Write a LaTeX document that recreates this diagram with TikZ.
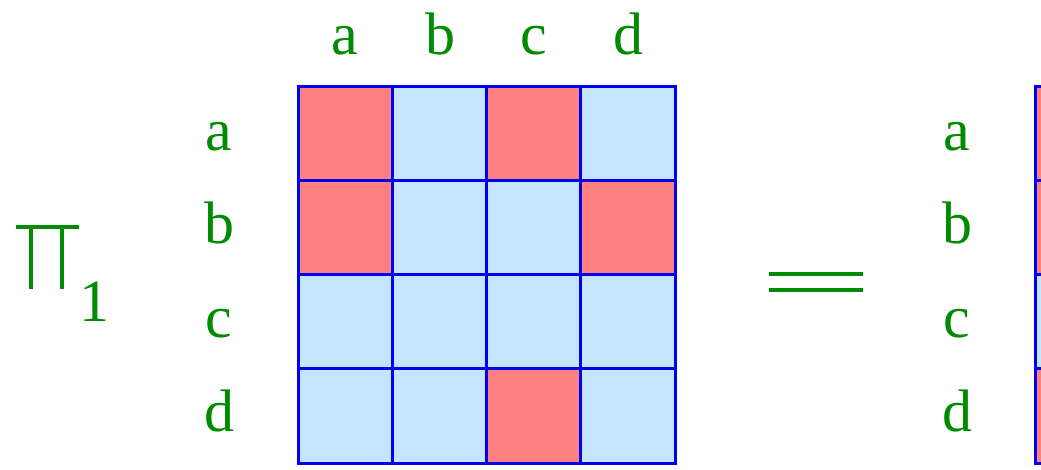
\documentclass[tikz,border=0pt]{standalone}
\usepackage{fontspec}
\setmainfont{Liberation Serif}
\definecolor{lblgreen}{RGB}{0,140,0}
\definecolor{cellred}{RGB}{255,128,128}
\definecolor{cellblue}{RGB}{196,228,255}
\definecolor{gridblue}{RGB}{0,0,240}
\tikzset{
  lbl/.style={text=lblgreen, font=\fontsize{60}{72}\selectfont, anchor=base, inner sep=0pt},
  redcell/.style={fill=cellred, draw=gridblue, line width=3pt},
  bluecell/.style={fill=cellblue, draw=gridblue, line width=3pt},
  sym/.style={draw=lblgreen, line width=3.4pt}
}
\begin{document}
\begin{tikzpicture}[x=1pt,y=-1pt]
\useasboundingbox (0,0) rectangle (1041,469);
% grid
\def\cs{94.25}
\foreach \r/\row in {0/{1,0,1,0},1/{1,0,0,1},2/{0,0,0,0},3/{0,0,1,0}}{
  \foreach \v [count=\c from 0] in \row {
    \ifnum\v=1
      \path[redcell] (298+\c*\cs,86+\r*\cs) rectangle ++(\cs,\cs);
    \else
      \path[bluecell] (298+\c*\cs,86+\r*\cs) rectangle ++(\cs,\cs);
    \fi
  }
}
% right partial grid
\foreach \r/\v in {0/1,1/1,2/0,3/1}{
  \ifnum\v=1
    \path[redcell] (1035,86+\r*\cs) rectangle ++(\cs,\cs);
  \else
    \path[bluecell] (1035,86+\r*\cs) rectangle ++(\cs,\cs);
  \fi
}
% top labels
\node[lbl] (ta) at (345,54) {a};
\node[lbl] (tb) at (440,54) {b};
\node[lbl] (tc) at (534,54) {c};
\node[lbl] (td) at (628,54) {d};
% left labels
\node[lbl] (la) at (219,150) {a};
\node[lbl] (lb) at (219,243) {b};
\node[lbl] (lc) at (219,337) {c};
\node[lbl] (ld) at (219,431) {d};
% right labels
\node[lbl] (ra) at (957,150) {a};
\node[lbl] (rb) at (957,243) {b};
\node[lbl] (rc) at (957,337) {c};
\node[lbl] (rd) at (957,431) {d};
% Pi symbol
\coordinate (p1) at (16,227);
\coordinate (p2) at (79,227);
\draw[sym] (p1) -- (p2);
\draw[sym] (31,227) -- (31,289);
\draw[sym] (62,227) -- (62,289);
\node[lbl] (sub) at (94,321) {1};
% equals
\draw[sym] (769,274) -- (863,274);
\draw[sym] (769,290) -- (863,290);
\end{tikzpicture}
\end{document}
